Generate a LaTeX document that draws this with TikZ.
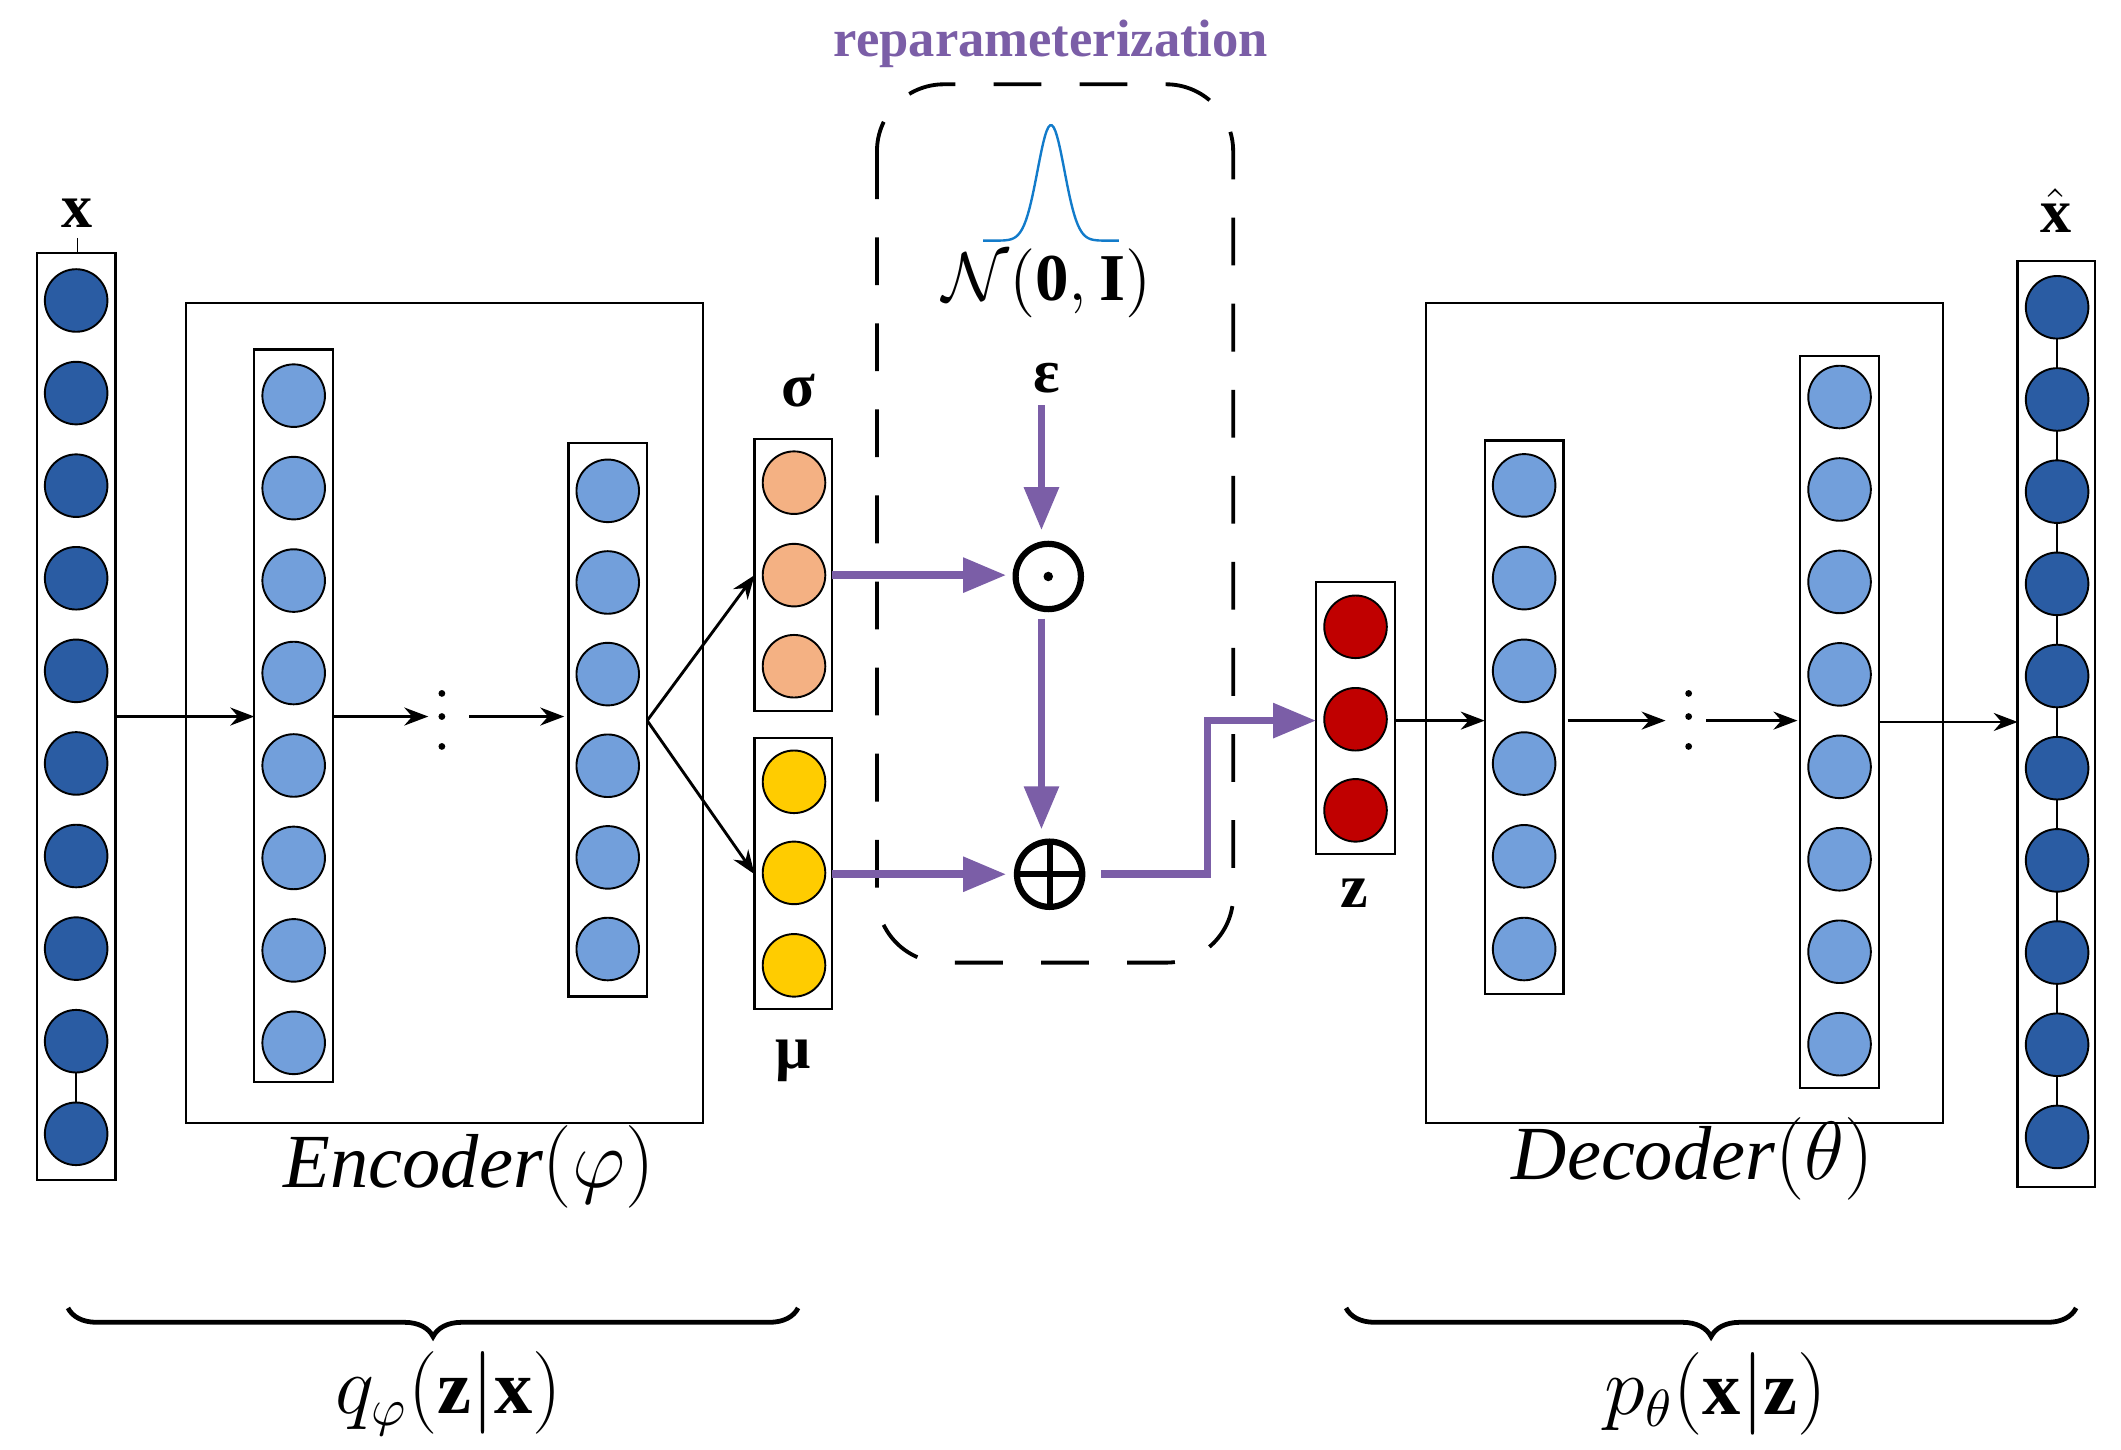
\documentclass[tikz,border=0pt]{standalone}
\usepackage{fontspec}
\setmainfont{Liberation Serif}
\usepackage{amsmath,bm}
\usetikzlibrary{decorations.pathreplacing,arrows.meta}
\definecolor{dblue}{HTML}{2A5CA3}
\definecolor{lblue}{HTML}{729FDB}
\definecolor{sorange}{HTML}{F4B183}
\definecolor{syellow}{HTML}{FFCC00}
\definecolor{zred}{HTML}{C00000}
\definecolor{purp}{HTML}{7B5EA7}
\begin{document}
\begin{tikzpicture}[x=0.01cm,y=-0.01cm,
  neu/.style={circle,draw=black,line width=0.4pt,minimum size=0.46cm,inner sep=0pt},
  lay/.style={draw=black,line width=0.5pt},
  ar/.style={-{Stealth[length=5pt]},line width=0.6pt},
  par/.style={-{Triangle[length=9pt,width=7pt]},draw=purp,line width=1.6pt},
  lbl/.style={font=\fontsize{13}{15}\selectfont\bfseries},
  big/.style={font=\fontsize{16}{18}\selectfont},
  br/.style={decorate,decoration={brace,mirror,amplitude=6pt},line width=1pt}]
\useasboundingbox (0,0) rectangle (1560,1066);
% reparameterization
\node[text=purp,font=\fontsize{11}{13}\selectfont\bfseries] (rep) at (773,32) {reparameterization};
\draw[dash pattern=on 10pt off 8pt,line width=0.8pt,rounded corners=14pt] (645,62) rectangle (907,708);
\draw[color=cyan!60!blue,line width=0.5pt,domain=723:823,samples=80] plot (\x,{177-85*exp(-((\x-773)/14)^2)});
\node[font=\fontsize{14}{16}\selectfont] (N) at (770,208) {$\mathcal{N}\!\left(\mathbf{0},\mathbf{I}\right)$};
\node[lbl] (eps) at (770,278) {ε};
\node[circle,draw,line width=1.3pt,minimum size=0.48cm,inner sep=0pt] (od) at (771,424) {};
\fill (771,424) circle (3.5);
\node[circle,draw,line width=1.3pt,minimum size=0.48cm,inner sep=0pt] (op) at (772,643) {};
\draw[line width=1.3pt] (772,620)--(772,666) (749,643)--(795,643);
\draw[par] (766,298) -- (766,390);
\draw[par] (766,455) -- (766,610);
% sigma / mu
\node[lbl] (sig) at (587,287) {σ};
\draw[lay] (555,323) rectangle (612,523);
\foreach \y [count=\i] in {355,423,490} \node[neu,fill=sorange] (s\i) at (584,\y) {};
\draw[lay] (555,543) rectangle (612,742);
\foreach \y [count=\i] in {575,642,710} \node[neu,fill=syellow] (m\i) at (584,\y) {};
\node[lbl] (mu) at (583,780) {μ};
\coordinate (sR) at (612,423); \coordinate (mR) at (612,643);
\draw[par] (sR) -- (740,423);
\draw[par] (mR) -- (740,643);
% z
\draw[lay] (968,428) rectangle (1026,628);
\foreach \y [count=\i] in {461,529,596} \node[neu,fill=zred] (z\i) at (997,\y) {};
\node[lbl] (zl) at (996,657) {z};
\coordinate (zin) at (968,530);
\draw[par] (810,643) -- (888,643) -- (888,530) -- (zin);
% input
\node[lbl] (xl) at (57,157) {x};
\draw[line width=0.4pt] (57,175) -- (57,186);
\draw[lay] (27,186) rectangle (85,868);
\foreach \i in {0,...,9} \node[neu,fill=dblue] (x\i) at (56,{221+68.1*\i}) {};
\draw (x8) -- (x9);
% encoder
\draw[lay] (137,223) rectangle (517,826);
\draw[lay] (187,257) rectangle (245,796);
\foreach \i in {0,...,7} \node[neu,fill=lblue] (a\i) at (216,{291+68*\i}) {};
\draw[lay] (418,326) rectangle (476,733);
\foreach \i in {0,...,5} \node[neu,fill=lblue] (b\i) at (447,{361+67.4*\i}) {};
\coordinate (e1) at (85,527); \coordinate (e2) at (187,527);
\draw[ar] (e1) -- (e2);
\coordinate (e3) at (245,527); \coordinate (e4) at (315,527);
\draw[ar] (e3) -- (e4);
\foreach \y in {510,527,549} \fill (325,\y) circle (2.5);
\coordinate (e5) at (345,527); \coordinate (e6) at (415,527);
\draw[ar] (e5) -- (e6);
\coordinate (e7) at (476,530);
\draw[ar] (e7) -- (555,423);
\draw[ar] (e7) -- (555,643);
\node[big] (enc) at (345,858) {$\mathit{Encoder}\!\left(\varphi\right)$};
\draw[br] (50,962) -- (587,962);
\node[big] (q) at (330,1025) {$q_{\varphi}\!\left(\mathbf{z}\middle|\mathbf{x}\right)$};
% decoder
\draw[lay] (1049,223) rectangle (1429,826);
\draw[lay] (1092,324) rectangle (1150,731);
\foreach \i in {0,...,5} \node[neu,fill=lblue] (c\i) at (1121,{357+68.2*\i}) {};
\draw[lay] (1324,262) rectangle (1382,800);
\foreach \i in {0,...,7} \node[neu,fill=lblue] (d\i) at (1353,{292+68*\i}) {};
\coordinate (f1) at (1026,530); \coordinate (f2) at (1092,530);
\draw[ar] (f1) -- (f2);
\coordinate (f3) at (1153,530); \coordinate (f4) at (1225,530);
\draw[ar] (f3) -- (f4);
\foreach \y in {510,527,549} \fill (1242,\y) circle (2.5);
\coordinate (f5) at (1255,530); \coordinate (f6) at (1322,530);
\draw[ar] (f5) -- (f6);
\coordinate (f7) at (1382,531); \coordinate (f8) at (1484,531);
\draw[ar] (f7) -- (f8);
% output
\draw[lay] (1484,192) rectangle (1541,873);
\draw (1513,226) -- (1513,836);
\foreach \i in {0,...,9} \node[neu,fill=dblue] (y\i) at (1513,{226+67.8*\i}) {};
\node[lbl] (xh) at (1512,155) {$\hat{\mathbf{x}}$};
\node[big] (dec) at (1245,852) {$\mathit{Decoder}\!\left(\theta\right)$};
\draw[br] (990,962) -- (1527,962);
\node[big] (p) at (1262,1025) {$p_{\theta}\!\left(\mathbf{x}\middle|\mathbf{z}\right)$};
\end{tikzpicture}
\end{document}
